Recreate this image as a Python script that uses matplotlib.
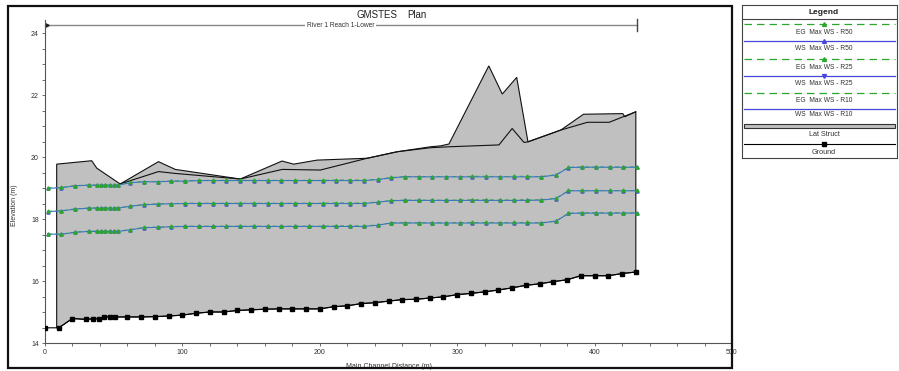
import numpy as np
import matplotlib
matplotlib.use("Agg")
import matplotlib.pyplot as plt
from matplotlib.patches import Rectangle, Polygon

plt.rcParams['font.family'] = ['Liberation Sans', 'DejaVu Sans']

# ---------------- data ----------------
ground_x = [0, 10, 20, 30, 35, 39, 43, 47, 51, 60, 70, 80, 90, 100, 110, 120, 130, 140, 150,
            160, 170, 180, 190, 200, 210, 220, 230, 240, 250, 260, 270, 280, 290, 300, 310,
            320, 330, 340, 350, 360, 370, 380, 390, 400, 410, 420, 430]
ground_y = [14.49, 14.49, 14.79, 14.76, 14.78, 14.78, 14.84, 14.84, 14.84, 14.84, 14.84, 14.85,
            14.87, 14.90, 14.96, 15.00, 15.00, 15.05, 15.07, 15.09, 15.10, 15.10, 15.10, 15.10,
            15.17, 15.20, 15.27, 15.30, 15.35, 15.40, 15.41, 15.45, 15.49, 15.56, 15.60, 15.65,
            15.71, 15.78, 15.86, 15.91, 15.98, 16.04, 16.17, 16.17, 16.17, 16.24, 16.29]

lat_top_x = [8.5, 34, 37.7, 54.7, 82.6, 94.8, 142.1, 172.5, 181, 198, 234.5, 256.3, 280.6,
             288, 294, 323, 332.8, 343.3, 351.5, 375.4, 391.9, 420.5, 422, 430]
lat_top_y = [19.77, 19.88, 19.64, 19.13, 19.85, 19.60, 19.29, 19.87, 19.77, 19.90, 19.96,
             20.17, 20.33, 20.36, 20.42, 22.94, 22.03, 22.57, 20.49, 20.87, 21.38, 21.40,
             21.30, 21.46]
lat_low_x = [54.7, 82.6, 94.8, 142.1, 172.7, 200.4, 234.5, 256.3, 280.6, 294, 330.4, 340,
             348.6, 351.5, 375.4, 394.8, 410.6, 430]
lat_low_y = [19.13, 19.53, 19.47, 19.29, 19.60, 19.58, 19.96, 20.17, 20.30, 20.33, 20.39,
             20.92, 20.47, 20.49, 20.87, 21.12, 21.12, 21.46]

ws_x = [2, 12, 22, 32, 38, 41, 44, 47, 50, 53, 62, 72, 82, 92, 102, 112, 122, 132, 142, 152,
        162, 172, 182, 192, 202, 212, 222, 232, 242, 252, 262, 272, 282, 292, 302, 311, 321,
        331, 341, 351, 361, 372, 381, 391, 401, 411, 421, 431]

ws_r50 = [18.99, 19.01, 19.07, 19.09, 19.09, 19.09, 19.09, 19.09, 19.09, 19.09, 19.17, 19.20,
          19.20, 19.22, 19.22, 19.24, 19.24, 19.24, 19.24, 19.24, 19.24, 19.24, 19.24, 19.24,
          19.24, 19.24, 19.24, 19.24, 19.27, 19.33, 19.36, 19.36, 19.36, 19.36, 19.36, 19.36,
          19.36, 19.36, 19.36, 19.36, 19.36, 19.42, 19.66, 19.67, 19.67, 19.67, 19.67, 19.67]
eg_r50 = [19.00, 19.02, 19.08, 19.10, 19.10, 19.10, 19.10, 19.10, 19.10, 19.10, 19.18, 19.21,
          19.21, 19.23, 19.23, 19.25, 19.25, 19.25, 19.25, 19.25, 19.25, 19.25, 19.25, 19.25,
          19.25, 19.26, 19.26, 19.26, 19.28, 19.34, 19.37, 19.37, 19.37, 19.37, 19.37, 19.38,
          19.38, 19.37, 19.38, 19.38, 19.37, 19.43, 19.67, 19.68, 19.68, 19.68, 19.68, 19.68]

ws_r25 = [18.24, 18.26, 18.32, 18.35, 18.35, 18.35, 18.35, 18.35, 18.35, 18.35, 18.41, 18.46,
          18.48, 18.49, 18.50, 18.50, 18.50, 18.50, 18.50, 18.50, 18.50, 18.50, 18.50, 18.50,
          18.50, 18.50, 18.50, 18.50, 18.54, 18.59, 18.60, 18.60, 18.60, 18.60, 18.60, 18.60,
          18.60, 18.60, 18.60, 18.60, 18.61, 18.66, 18.91, 18.91, 18.91, 18.91, 18.91, 18.91]
eg_r25 = [18.25, 18.27, 18.33, 18.36, 18.36, 18.36, 18.36, 18.36, 18.36, 18.36, 18.42, 18.47,
          18.49, 18.50, 18.51, 18.51, 18.51, 18.51, 18.51, 18.51, 18.51, 18.51, 18.51, 18.51,
          18.51, 18.52, 18.52, 18.52, 18.55, 18.60, 18.61, 18.61, 18.61, 18.61, 18.61, 18.62,
          18.62, 18.61, 18.62, 18.62, 18.62, 18.67, 18.92, 18.92, 18.92, 18.92, 18.92, 18.92]

ws_r10 = [17.51, 17.51, 17.57, 17.60, 17.60, 17.60, 17.60, 17.60, 17.60, 17.60, 17.65, 17.72,
          17.73, 17.75, 17.76, 17.76, 17.76, 17.76, 17.76, 17.76, 17.76, 17.76, 17.76, 17.76,
          17.76, 17.76, 17.76, 17.76, 17.80, 17.87, 17.87, 17.87, 17.87, 17.87, 17.87, 17.87,
          17.87, 17.87, 17.87, 17.87, 17.87, 17.93, 18.18, 18.19, 18.19, 18.19, 18.19, 18.19]
eg_r10 = [17.52, 17.52, 17.58, 17.61, 17.61, 17.61, 17.61, 17.61, 17.61, 17.61, 17.66, 17.73,
          17.74, 17.76, 17.77, 17.77, 17.77, 17.77, 17.77, 17.77, 17.77, 17.77, 17.77, 17.77,
          17.77, 17.78, 17.78, 17.78, 17.81, 17.88, 17.88, 17.88, 17.88, 17.88, 17.88, 17.89,
          17.89, 17.88, 17.89, 17.89, 17.88, 17.94, 18.19, 18.20, 18.20, 18.20, 18.20, 18.20]

x_ticks = [0, 100, 200, 300, 400, 500]
x_ticklabels = ['0', '100', '200', '300', '400', '500']
y_ticks = [14, 16, 18, 20, 22, 24]
y_ticklabels = ['14', '16', '18', '20', '22', '24']

legend_labels = ['EG  Max WS - R50', 'WS  Max WS - R50', 'EG  Max WS - R25', 'WS  Max WS - R25',
                 'EG  Max WS - R10', 'WS  Max WS - R10', 'Lat Struct', 'Ground']

title_left = 'GMSTES'
title_right = 'Plan'
reach_label = 'River 1 Reach 1-Lower'
xlabel = 'Main Channel Distance (m)'
ylabel = 'Elevation (m)'

# ---------------- style ----------------
W, H = 899, 371
GREEN = '#2aa82a'
BLUE = '#4646d8'
WSLINE = '#3a78c0'
GRAY = '#c0c0c0'
TXT = '#333333'

fig = plt.figure(figsize=(W / 100, H / 100), dpi=100)

def fx(px):
    return px / W

def fy(py):
    return 1 - py / H

ax = fig.add_axes([fx(45), fy(343), fx(732) - fx(45), fy(20) - fy(343)])
ax.set_xlim(0, 500)
ax.set_ylim(14, 24.42)
for s in ['top', 'right']:
    ax.spines[s].set_visible(False)
for s in ['left', 'bottom']:
    ax.spines[s].set_linewidth(0.8)
    ax.spines[s].set_color('#555555')

# lateral structure polygon: top profile + ground underneath
gx = np.array(ground_x, float)
gy = np.array(ground_y, float)
x0, x1 = lat_top_x[0], lat_top_x[-1]
mask = (gx > x0) & (gx < x1)
bot_x = np.concatenate([[x0], gx[mask], [x1]])
bot_y = np.interp(bot_x, gx, gy)
poly_x = list(lat_top_x) + list(bot_x[::-1])
poly_y = list(lat_top_y) + list(bot_y[::-1])
ax.add_patch(Polygon(np.column_stack([poly_x, poly_y]), closed=True,
                     facecolor=GRAY, edgecolor='#111111', linewidth=0.8, zorder=1))
ax.plot(lat_low_x, lat_low_y, color='#111111', linewidth=0.8, zorder=2)

# water surfaces
for ws, eg in [(ws_r50, eg_r50), (ws_r25, eg_r25), (ws_r10, eg_r10)]:
    ax.plot(ws_x, eg, color=GREEN, linewidth=0.6, linestyle=(0, (5, 4)), zorder=3)
    ax.plot(ws_x, ws, color=WSLINE, linewidth=0.8, marker='^', markersize=2.2,
            markerfacecolor=BLUE, markeredgecolor=BLUE, zorder=4)
    ax.plot(ws_x, eg, linestyle='none', marker='^', markersize=2.2,
            markerfacecolor=GREEN, markeredgecolor=GREEN, zorder=5)

# ground
ax.plot(ground_x, ground_y, color='black', linewidth=0.8, marker='s', markersize=2.3, zorder=6)

# reach header line
reach_y = 24.26
ax.plot([0, 430.7], [reach_y, reach_y], color='#888888', linewidth=1.0, zorder=2, clip_on=False)
ax.plot([430.7, 430.7], [reach_y - 0.2, reach_y + 0.2], color='#444444', linewidth=1.0, clip_on=False)
ax.plot([1.5], [reach_y], marker='>', color='#222222', markersize=2.5, clip_on=False)
ax.text(215, reach_y - 0.03, reach_label, ha='center', va='center', fontsize=4.8, color=TXT,
        bbox=dict(facecolor='white', edgecolor='none', pad=1.5), zorder=7)

# ticks
ax.set_xticks(x_ticks)
ax.set_xticklabels(x_ticklabels)
ax.set_yticks(y_ticks)
ax.set_yticklabels(y_ticklabels)
ax.set_xticks(np.arange(0, 501, 20), minor=True)
ax.set_yticks(np.arange(14, 24.3, 0.5), minor=True)
ax.tick_params(which='both', direction='out', length=2.5, width=0.6, color='#555555',
               labelsize=5, labelcolor=TXT, pad=2)
ax.set_xlabel(xlabel, fontsize=5, color=TXT, labelpad=5)

fig.text(fx(15), fy(205), ylabel, rotation=90, ha='center', va='center', fontsize=5, color=TXT)
fig.text(fx(377), fy(15), title_left, ha='center', va='center', fontsize=7, color='#222222')
fig.text(fx(417), fy(15), title_right, ha='center', va='center', fontsize=7, color='#222222')

# outer frame of plot area
fig.add_artist(Rectangle((fx(8), fy(368)), fx(732) - fx(8), fy(6) - fy(368),
                         transform=fig.transFigure, fill=False, edgecolor='#111111', linewidth=1.6))

# ---------------- legend ----------------
lg = fig.add_axes([fx(742), fy(158), fx(897) - fx(742), fy(5) - fy(158)])
lg.set_xlim(0, 155)
lg.set_ylim(153, 0)
lg.set_xticks([])
lg.set_yticks([])
for s in lg.spines.values():
    s.set_linewidth(0.8)
    s.set_color('#444444')
cx = 82
lg.text(cx, 8, 'Legend', ha='center', va='center', fontsize=6, fontweight='bold', color='#222222')
lg.plot([0, 155], [14, 14], color='#444444', linewidth=0.8)

entries = [
    (19, 27, GREEN, (0, (6, 4)), '^', legend_labels[0]),
    (36.3, 43.3, BLUE, '-', '^', legend_labels[1]),
    (53.7, 62.3, GREEN, (0, (6, 4)), '^', legend_labels[2]),
    (70.7, 78.3, BLUE, '-', 'v', legend_labels[3]),
    (87.7, 95, GREEN, (0, (6, 4)), None, legend_labels[4]),
    (103.7, 110, BLUE, '-', None, legend_labels[5]),
]
for ly, ty, col, ls, mk, lab in entries:
    lg.plot([2, 153], [ly, ly], color=col, linestyle=ls, linewidth=0.9)
    if mk:
        lg.plot([cx], [ly], marker=mk, color=col, markersize=2.8)
    lg.text(cx, ty, lab, ha='center', va='center', fontsize=4.8, color=TXT)

lg.add_patch(Rectangle((2, 119), 151, 4, facecolor=GRAY, edgecolor='#333333', linewidth=0.8))
lg.text(cx, 130, legend_labels[6], ha='center', va='center', fontsize=5.2, color=TXT)
lg.plot([2, 153], [139, 139], color='black', linewidth=0.8)
lg.plot([cx], [139], marker='s', color='black', markersize=2.8)
lg.text(cx, 147.5, legend_labels[7], ha='center', va='center', fontsize=5.2, color=TXT)

fig.savefig('out.png', dpi=100)
